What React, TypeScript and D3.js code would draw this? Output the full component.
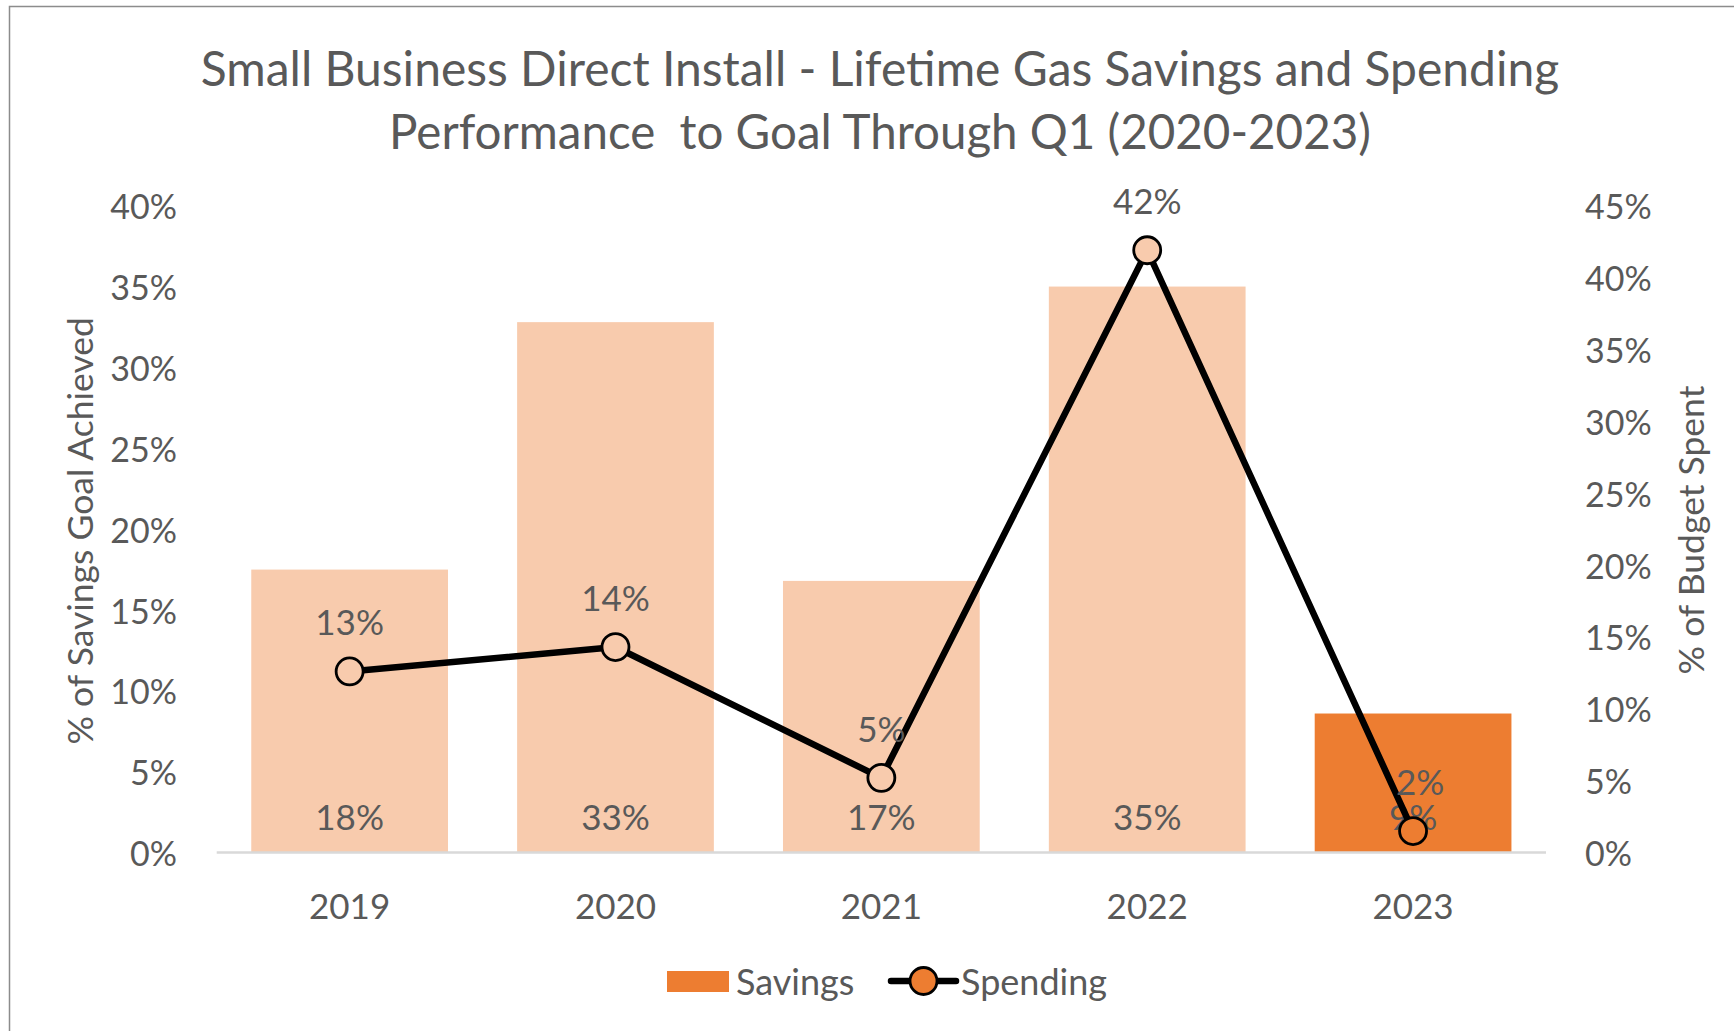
import React, { useEffect } from "react";
import * as d3 from "d3";

const years = ["2019", "2020", "2021", "2022", "2023"];
const savings = [0.175, 0.328, 0.168, 0.35, 0.086];
const spending = [0.126, 0.143, 0.052, 0.419, 0.015];
const highlight = [false, false, false, false, true];
const leftTicks = [0, 0.05, 0.1, 0.15, 0.2, 0.25, 0.3, 0.35, 0.4];
const rightTicks = [0, 0.05, 0.1, 0.15, 0.2, 0.25, 0.3, 0.35, 0.4, 0.45];
const spendLabelDx = [0, 0, 0, 0, 7];
const titleLines = [
  "Small Business Direct Install - Lifetime Gas Savings and Spending",
  "Performance  to Goal Through Q1 (2020-2023)",
];

const W = 1734;
const H = 1031;
const FONT = "Lato, 'Open Sans', sans-serif";
const TEXT = "#595959";
const LIGHT = "#F8CBAD";
const DARK = "#ED7D31";
const FS = 35;

export default function App() {
  useEffect(() => {
    document.body.style.margin = "0";
  }, []);

  const plotLeft = 216.7;
  const plotRight = 1546;
  const plotBottom = 852.6;
  const plotTop = 205.7;

  const x = d3
    .scaleBand<string>()
    .domain(years)
    .range([plotLeft, plotRight])
    .paddingInner(0.26)
    .paddingOuter(0.13);
  const yL = d3.scaleLinear().domain([0, 0.4]).range([plotBottom, plotTop]);
  const yR = d3.scaleLinear().domain([0, 0.45]).range([plotBottom, plotTop]);
  const fmt = d3.format(".0%");

  const cx = (y: string) => (x(y) as number) + x.bandwidth() / 2;
  const line = d3
    .line<number>()
    .x((_, i) => cx(years[i]))
    .y((d) => yR(d));

  return (
    <svg width={W} height={H} style={{ display: "block", background: "#fff" }} fontFamily={FONT}>
      <rect x={9.5} y={6.5} width={W + 10} height={H + 10} fill="#fff" stroke="#8C8C8C" strokeWidth={1.5} />

      {titleLines.map((t, i) => (
        <text key={i} x={880} y={67.5 + i * 63} textAnchor="middle" dominantBaseline="central" fontSize={i === 0 ? 48 : 47.5} fill={TEXT} style={{ whiteSpace: "pre" }}>
          {t}
        </text>
      ))}

      {leftTicks.map((t) => (
        <text key={"l" + t} x={177} y={yL(t)} textAnchor="end" dominantBaseline="central" fontSize={34} fill={TEXT}>
          {fmt(t)}
        </text>
      ))}
      {rightTicks.map((t) => (
        <text key={"r" + t} x={1585} y={yR(t)} textAnchor="start" dominantBaseline="central" fontSize={34} fill={TEXT}>
          {fmt(t)}
        </text>
      ))}

      <text transform={`translate(79.6,530.8) rotate(-90)`} textAnchor="middle" dominantBaseline="central" fontSize={35.5} fill={TEXT}>
        % of Savings Goal Achieved
      </text>
      <text transform={`translate(1690,530) rotate(-90)`} textAnchor="middle" dominantBaseline="central" fontSize={35.5} fill={TEXT}>
        % of Budget Spent
      </text>

      {years.map((yr, i) => (
        <rect key={"b" + yr} x={x(yr)} y={yL(savings[i])} width={x.bandwidth()} height={plotBottom - yL(savings[i])} fill={highlight[i] ? DARK : LIGHT} />
      ))}

      <line x1={plotLeft} x2={plotRight} y1={plotBottom} y2={plotBottom} stroke="#D9D9D9" strokeWidth={2.5} />

      {years.map((yr) => (
        <text key={"x" + yr} x={cx(yr)} y={904.6} textAnchor="middle" dominantBaseline="central" fontSize={FS} fill={TEXT}>
          {yr}
        </text>
      ))}

      {years.map((yr, i) => (
        <text key={"sl" + yr} x={cx(yr)} y={plotBottom - 36.5} textAnchor="middle" dominantBaseline="central" fontSize={FS} fill={TEXT}>
          {fmt(savings[i])}
        </text>
      ))}

      <path d={line(spending) || ""} fill="none" stroke="#000" strokeWidth={6.5} strokeLinejoin="round" />
      {years.map((yr, i) => (
        <circle key={"m" + yr} cx={cx(yr)} cy={yR(spending[i])} r={13.5} fill={highlight[i] ? DARK : LIGHT} stroke="#000" strokeWidth={2.8} />
      ))}
      {years.map((yr, i) => (
        <text key={"pl" + yr} x={cx(yr) + spendLabelDx[i]} y={yR(spending[i]) - 50} textAnchor="middle" dominantBaseline="central" fontSize={FS} fill={TEXT}>
          {fmt(spending[i])}
        </text>
      ))}

      <g>
        <rect x={667} y={971} width={62} height={21} fill={DARK} />
        <text x={736} y={981} dominantBaseline="central" fontSize={36} fill={TEXT}>Savings</text>
        <line x1={891} x2={956} y1={981} y2={981} stroke="#000" strokeWidth={6.5} strokeLinecap="round" />
        <circle cx={923.5} cy={981} r={13.5} fill={DARK} stroke="#000" strokeWidth={2.8} />
        <text x={961} y={981} dominantBaseline="central" fontSize={36} fill={TEXT}>Spending</text>
      </g>
    </svg>
  );
}
